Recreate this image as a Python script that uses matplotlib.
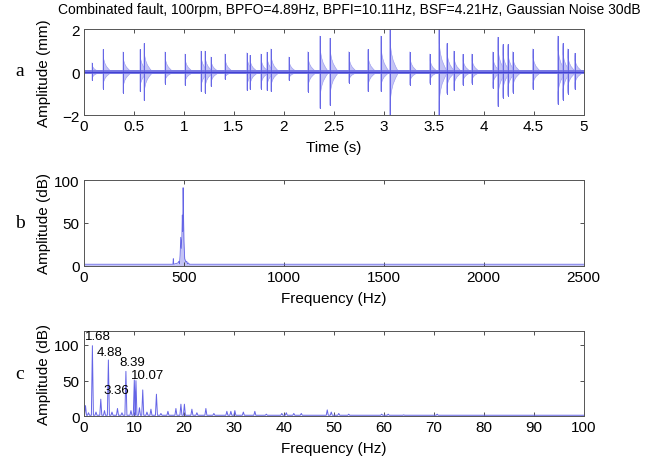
import numpy as np
import matplotlib.pyplot as plt

plt.rcParams['font.family'] = ['Liberation Sans', 'DejaVu Sans']

title = "Combinated fault, 100rpm, BPFO=4.89Hz, BPFI=10.11Hz, BSF=4.21Hz, Gaussian Noise 30dB"

# --- a : signal temporel (bursts) ---
burst_t = [0.08, 0.19, 0.39, 0.56, 0.60, 0.81, 1.01, 1.17, 1.21, 1.27,
           1.41, 1.63, 1.66, 1.77, 1.83, 1.87, 2.05, 2.24, 2.36, 2.46,
           2.65, 2.84, 2.97, 3.06, 3.26, 3.46, 3.55, 3.63, 3.70, 3.79,
           3.88, 4.09, 4.14, 4.19, 4.24, 4.29, 4.49, 4.74, 4.79, 4.84, 4.91]
burst_up = [0.45, 1.07, 0.96, 1.07, 1.35, 0.96, 0.86, 1.0, 1.0, 0.72,
            0.86, 0.92, 0.8, 0.86, 0.95, 1.1, 0.72, 0.97, 1.7, 1.6,
            0.97, 1.07, 1.7, 2.2, 0.96, 0.86, 2.2, 1.35, 1.0, 0.85,
            0.86, 0.96, 1.65, 1.3, 1.3, 0.97, 1.1, 1.7, 1.35, 1.1, 0.9]
burst_down = [0.38, 0.77, 0.97, 0.9, 1.32, 0.53, 0.61, 0.9, 0.97, 0.66,
              0.33, 0.85, 0.8, 0.77, 0.85, 0.9, 0.38, 0.92, 1.69, 1.55,
              0.5, 0.9, 0.9, 2.2, 0.6, 0.53, 2.2, 1.0, 0.85, 0.6,
              0.53, 0.75, 1.6, 1.2, 1.1, 0.96, 0.8, 1.5, 1.3, 1.0, 0.8]
# forme typique d'un burst (decroissance)
burst_offset = [0.0, 0.006, 0.018, 0.035, 0.06, 0.09]
burst_shape = [1.0, 0.6, 0.4, 0.25, 0.12, 0.0]
noise_level = 0.1

# --- b : spectre ---
b_freq = [0, 445, 447, 449, 470, 475, 478, 481, 484, 487, 490, 492, 494,
          496, 498, 500, 502, 504, 507, 510, 514, 518, 522, 528, 2500]
b_amp = [1.5, 1.5, 8, 1.5, 3, 5, 2, 12, 33, 20, 34, 59, 40,
         91, 60, 29, 18, 8, 6, 4, 5, 2, 3, 1.5, 1.5]

# --- c : spectre d'enveloppe ---
c_peak_f = [0.3, 0.9, 1.68, 2.4, 3.36, 4.1, 4.88, 5.6, 6.7, 7.6,
            8.39, 9.4, 10.07, 10.4, 11.1, 11.76, 12.6, 13.4, 14.5, 15.4,
            16.8, 18.4, 19.4, 20.1, 21.6, 22.6, 24.4, 26.0, 28.6, 29.4,
            30.2, 31.9, 34.2, 36.5, 39.6, 40.5, 42.0, 43.5, 48.7, 49.5,
            51.0, 53.0, 59.6, 60.9, 64.0, 70.7]
c_peak_db = [15, 5, 99, 6, 24, 8, 79, 6, 11, 5,
             63, 8, 51, 50, 12, 37, 6, 10, 31, 4,
             7, 11, 17, 17, 10, 5, 11, 4, 7, 7,
             8, 6, 7, 3, 4, 5, 4, 4, 9, 6,
             4, 3, 3, 3, 2, 3]
c_base = 1.5
c_labels = ["1.68", "4.88", "8.39", "10.07", "3.36"]
c_label_x = [0.2, 2.5, 7.1, 9.4, 3.9]
c_label_y = [113, 90, 76, 58, 37]

a_xticks = [0, 0.5, 1, 1.5, 2, 2.5, 3, 3.5, 4, 4.5, 5]
a_xticklabels = ["0", "0.5", "1", "1.5", "2", "2.5", "3", "3.5", "4", "4.5", "5"]
b_xticks = [0, 500, 1000, 1500, 2000, 2500]
c_xticks = [0, 10, 20, 30, 40, 50, 60, 70, 80, 90, 100]

line_col = '#6464e6'
fill_col = '#c4c4f5'

fig = plt.figure(figsize=(6.63, 4.64), dpi=100)
ax_a = fig.add_axes([0.1267, 0.750, 0.7534, 0.1843])
ax_b = fig.add_axes([0.1267, 0.4256, 0.7534, 0.1843])
ax_c = fig.add_axes([0.1267, 0.1006, 0.7534, 0.1845])

# a
offs = np.array(burst_offset)
shape = np.array(burst_shape)
for t, up, dn in zip(burst_t, burst_up, burst_down):
    xs = np.concatenate([t + offs, (t + offs)[::-1]])
    ys = np.concatenate([up * shape, (-dn * shape)[::-1]])
    ax_a.fill(xs, ys, facecolor=fill_col, edgecolor='#9494f0', lw=0.4)
    ax_a.plot([t, t], [-dn, up], color=line_col, lw=0.7)
ax_a.fill_between([0, 5], -noise_level, noise_level, color='#7a7ae4', lw=0)
ax_a.axhline(0, color='#4040d2', lw=0.8)
ax_a.set_xlim(0, 5)
ax_a.set_ylim(-2, 2)
ax_a.set_yticks([-2, 0, 2])
ax_a.set_xticks(a_xticks)
ax_a.set_xticklabels(a_xticklabels)
ax_a.set_xlabel("Time (s)")
ax_a.set_ylabel("Amplitude (mm)")

# b
ax_b.fill_between(b_freq, 0, b_amp, color=fill_col, lw=0)
ax_b.plot(b_freq, b_amp, color=line_col, lw=0.6)
ax_b.set_xlim(0, 2500)
ax_b.set_ylim(0, 100)
ax_b.set_yticks([0, 50, 100])
ax_b.set_xticks(b_xticks)
ax_b.set_xlabel("Frequency (Hz)")
ax_b.set_ylabel("Amplitude (dB)")

# c
cx, cy = [0], [c_base]
for f, d in zip(c_peak_f, c_peak_db):
    cx += [f - 0.2, f, f + 0.2]
    cy += [c_base, d, c_base]
cx.append(100)
cy.append(c_base)
ax_c.plot(cx, cy, color=line_col, lw=0.7)
for lab, x, y in zip(c_labels, c_label_x, c_label_y):
    ax_c.text(x, y, lab, fontsize=9.5, ha='left', va='center')
ax_c.set_xlim(0, 100)
ax_c.set_ylim(0, 120)
ax_c.set_yticks([0, 50, 100])
ax_c.set_xticks(c_xticks)
ax_c.set_xlabel("Frequency (Hz)")
ax_c.set_ylabel("Amplitude (dB)")

for ax in (ax_a, ax_b, ax_c):
    ax.tick_params(direction='in', top=True, right=True, length=3,
                   width=0.6, labelsize=11, pad=3, color='#333333')
    for sp in ax.spines.values():
        sp.set_linewidth(0.7)
        sp.set_color('#555555')
    ax.xaxis.label.set_size(11)
    ax.yaxis.label.set_size(11)
    ax.xaxis.labelpad = 5
    ax.yaxis.set_label_coords(-0.066, 0.5)

fig.text(0.527, 0.978, title, ha='center', va='center', fontsize=10)
for lab, y in zip(["a", "b", "c"], [72, 224, 375]):
    fig.text(20 / 663, 1 - y / 464, lab, ha='center', va='center',
             fontsize=14, family='Liberation Serif')

fig.savefig("out.png", dpi=100)
